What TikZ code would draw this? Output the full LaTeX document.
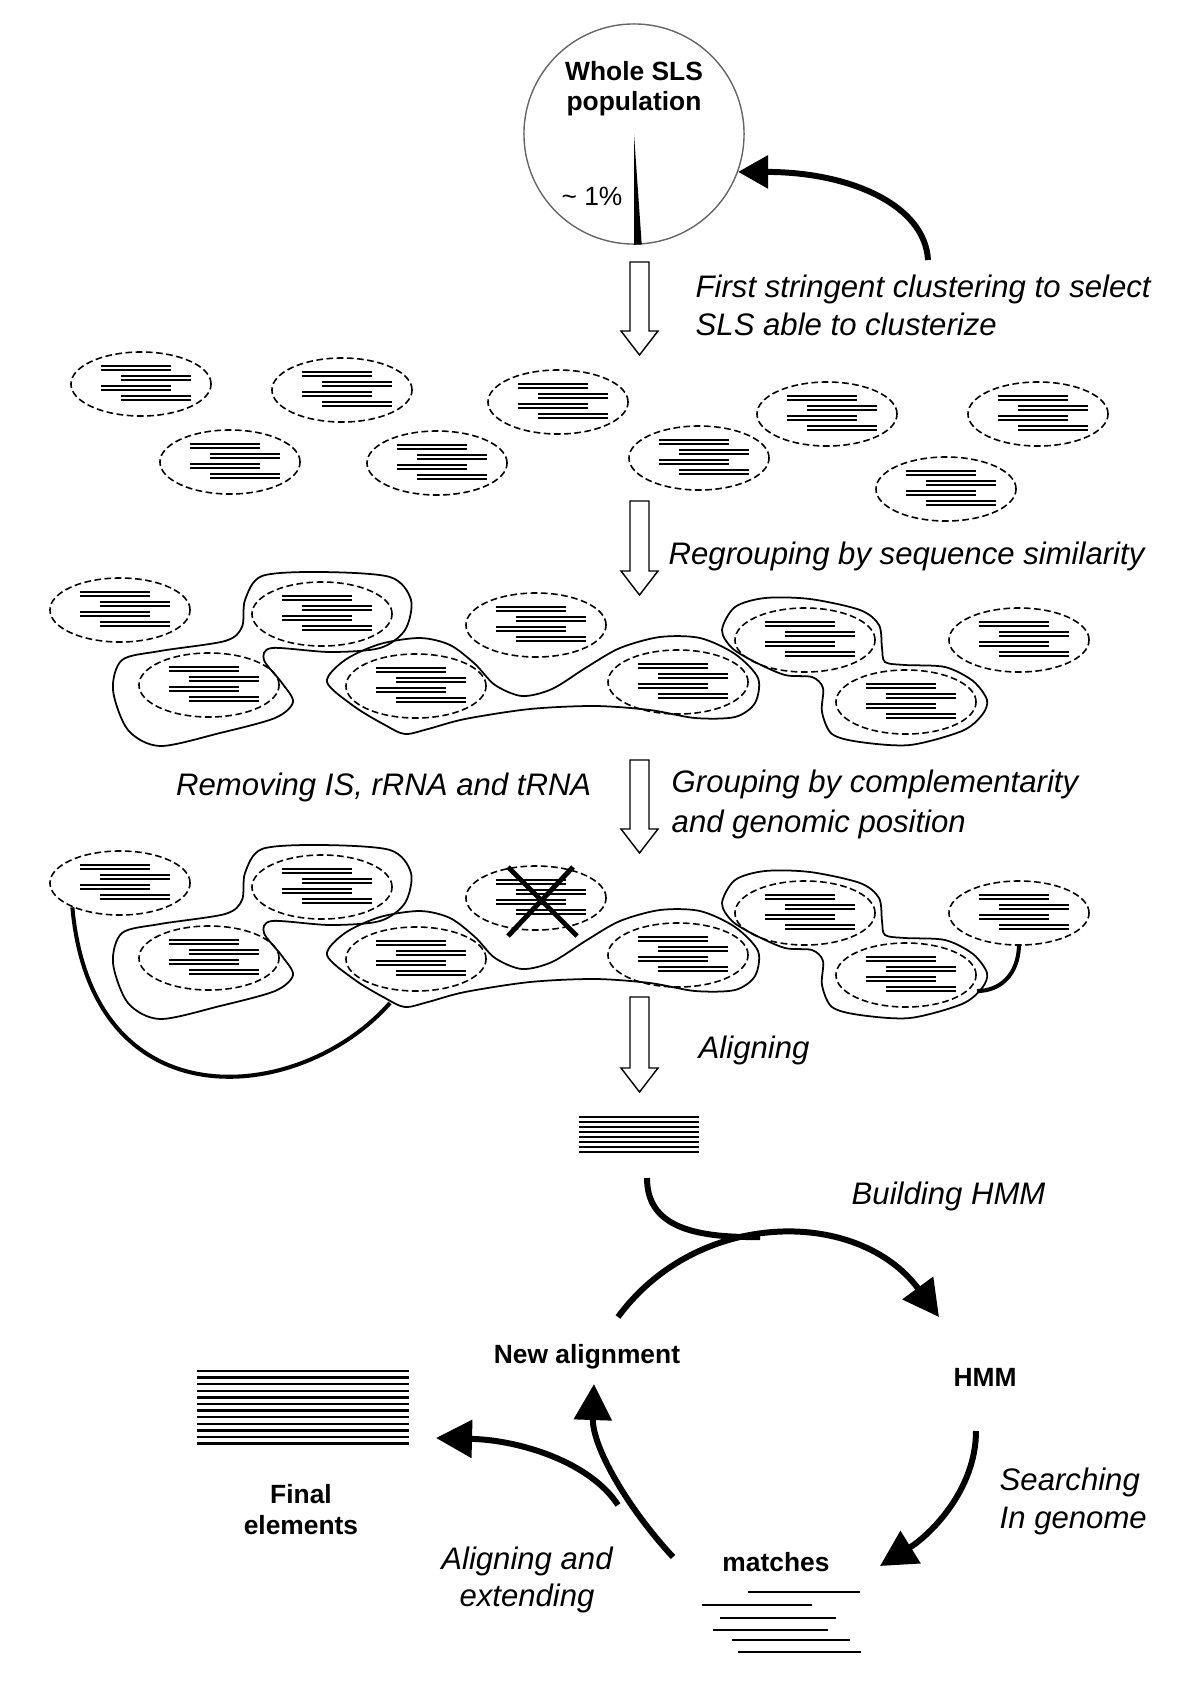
\documentclass[tikz,border=0pt]{standalone}
\usepackage{fontspec}
\setmainfont{Liberation Sans}
\usetikzlibrary{shapes.geometric,arrows.meta}

\tikzset{
  clus/.style={draw, ellipse, minimum width=1.4cm, minimum height=0.64cm, inner sep=0pt, line width=0.45pt, dash pattern=on 1.9pt off 1pt},
  seq/.style={line width=0.55pt},
  stack/.style={line width=0.65pt},
  blob/.style={line width=0.5pt},
  hollow/.style={draw, fill=white, line width=0.4pt},
  bigarr/.style={line width=1.7pt, -{Triangle[length=0.36cm,width=0.37cm]}},
  link/.style={line width=1.15pt},
  lbl/.style={font=\fontsize{8.85}{10.6}\selectfont\itshape, inner sep=0pt},
  bld/.style={font=\fontsize{7.5}{9}\selectfont\bfseries, inner sep=0pt},
}

% four staggered double bars inside a cluster
\newcommand\seqbars[1]{%
  \foreach \dy/\xa in {-16/-40,-6/-20,4/-40,14/-20}
    \foreach \dl in {-1.8,1.8}
      \draw[seq] ([shift={(\xa,{\dy+\dl})}]#1.center) -- +(70,0);}

% the three groups of clusters
\newcommand\blobs{%
  \draw[blob] plot[smooth cycle, tension=0.5] coordinates {(245,600) (262,576) (320,572) (390,577) (411,600) (405,630) (380,648) (330,652) (272,648) (264,660) (282,683) (293,702) (275,718) (220,733) (160,746) (128,730) (113,690) (122,660) (160,651) (225,641) (242,627)};
  \draw[blob] plot[smooth cycle, tension=0.5] coordinates {(327,682) (345,660) (380,644) (420,638) (450,645) (475,664) (495,685) (522,696) (552,689) (587,667) (620,648) (660,637) (700,638) (735,654) (758,678) (755,703) (735,717) (695,718) (650,710) (595,706) (530,709) (465,719) (428,729) (405,734) (385,725) (355,707)};
  \draw[blob] plot[smooth cycle, tension=0.5] coordinates {(722,630) (735,607) (765,598) (810,599) (860,610) (879,625) (882,648) (885,662) (905,665) (945,667) (973,681) (987,700) (982,715) (962,731) (910,745) (860,742) (832,734) (822,712) (823,688) (812,677) (785,675) (755,662) (732,648)};}

\begin{document}
\begin{tikzpicture}[x=0.01cm, y=-0.01cm]
\useasboundingbox (0,0) rectangle (1200,1690);

% whole population
\node[draw=black!60, circle, minimum size=2.2cm, inner sep=0pt, line width=0.4pt] (pop) at (634,134) {};
\fill (pop.center) -- (pop.-90) -- (pop.-86.4) -- cycle;
\node[bld, anchor=base] (w1) at (634,80) {Whole SLS};
\node[bld, anchor=base] (w2) at (634,110) {population};
\node[font=\fontsize{7.5}{9}\selectfont, inner sep=0pt, anchor=base] (pc) at (592,205) {\textasciitilde{} 1\%};
\coordinate (q) at (928,260);
\draw[line width=1.7pt, -{Triangle[length=0.3cm,width=0.32cm]}] (q) .. controls (925,205) and (850,172) .. (pop.-20);
\node[lbl, anchor=base west] (t1) at (695,297) {First stringent clustering to select};
\node[lbl, anchor=base west] (t2) at (695,335) {SLS able to clusterize};

% step arrows
\foreach \ya/\yb in {262/355,501/595,760/853,997/1092}
  \draw[hollow] (630,\ya) -- (649,\ya) -- (649,{\yb-24}) -- (658,{\yb-24}) -- (639.5,\yb) -- (621,{\yb-24}) -- (630,{\yb-24}) -- cycle;

% selected clusters
\foreach \n/\x/\y in {c11/141/384, c12/342/390, c13/230/462, c14/437/463, c15/558/402, c16/827/414, c17/699/458, c18/1038/414, c19/946/489} {
  \node[clus] (\n) at (\x,\y) {};
  \seqbars{\n}
}

% regrouped clusters
\foreach \r/\off in {2/0,3/273} {
  \foreach \k/\x/\y in {1/120/610, 2/322/614, 3/209/685, 4/416/686, 5/536/625, 6/678/682, 7/805/640, 8/1019/640, 9/906/702} {
    \node[clus] (c\r\k) at (\x,{\y+\off}) {};
    \seqbars{c\r\k}
  }
  \begin{scope}[shift={(0,\off)}]
    \blobs
  \end{scope}
}
\node[lbl, anchor=base west] (t3) at (668,564) {Regrouping by sequence similarity};
\node[lbl, anchor=base east] (t4) at (592,795) {Removing IS, rRNA and tRNA};
\node[lbl, anchor=base west] (t5) at (671,792) {Grouping by complementarity};
\node[lbl, anchor=base west] (t6) at (671,832) {and genomic position};
\node[lbl, anchor=base west] (t7) at (698,1058) {Aligning};

\draw[line width=1.4pt] (508,867) -- (577,936) (573,867) -- (508,936);
\coordinate (k1) at (390,1003);
\coordinate (k2) at (977,991);
\draw[link] (c31.207) .. controls (92,1125) and (300,1105) .. (k1);
\draw[link] (c38.south) .. controls (1018,975) and (1000,991) .. (k2);

% alignment and HMM cycle
\foreach \i in {0,...,7}
  \draw[stack] (579,{1117+5*\i}) -- (699,{1117+5*\i});
\node[lbl, anchor=base west] (b1) at (851,1204) {Building HMM};
\coordinate (a0) at (647,1178);
\coordinate (p1) at (618,1317);
\coordinate (p2) at (939,1317);
\coordinate (p3) at (976,1431);
\coordinate (p4) at (880,1566);
\coordinate (p5) at (673,1557);
\coordinate (p6) at (594,1384);
\coordinate (p7) at (618,1505);
\coordinate (p8) at (436,1438);
\draw[line width=1.7pt] (a0) .. controls (647,1225) and (690,1238) .. (760,1237);
\draw[bigarr] (p1) .. controls (698,1208) and (859,1208) .. (p2);
\draw[bigarr] (p3) .. controls (976,1490) and (930,1535) .. (p4);
\draw[bigarr] (p5) .. controls (625,1505) and (592,1445) .. (p6);
\draw[bigarr] (p7) .. controls (590,1462) and (520,1440) .. (p8);

\node[bld, anchor=base] (na) at (587,1363) {New alignment};
\node[bld, anchor=base] (hm) at (985,1386) {HMM};
\node[lbl, anchor=base west] (s1) at (999,1490) {Searching};
\node[lbl, anchor=base west] (s2) at (999,1528) {In genome};
\node[bld, anchor=base] (mt) at (776,1571) {matches};
\foreach \xa/\xb/\y in {748/860/1592, 702/812/1605, 720/836/1618, 713/828/1630, 732/850/1640, 738/861/1652}
  \draw[seq] (\xa,\y) -- (\xb,\y);
\node[lbl, anchor=base] (x1) at (527,1569) {Aligning and};
\node[lbl, anchor=base] (x2) at (527,1606) {extending};
\foreach \i in {0,...,11}
  \draw[stack] (197,{1371+6.6*\i}) -- (409,{1371+6.6*\i});
\node[bld, anchor=base] (f1) at (301,1503) {Final};
\node[bld, anchor=base] (f2) at (301,1534) {elements};
\end{tikzpicture}
\end{document}
